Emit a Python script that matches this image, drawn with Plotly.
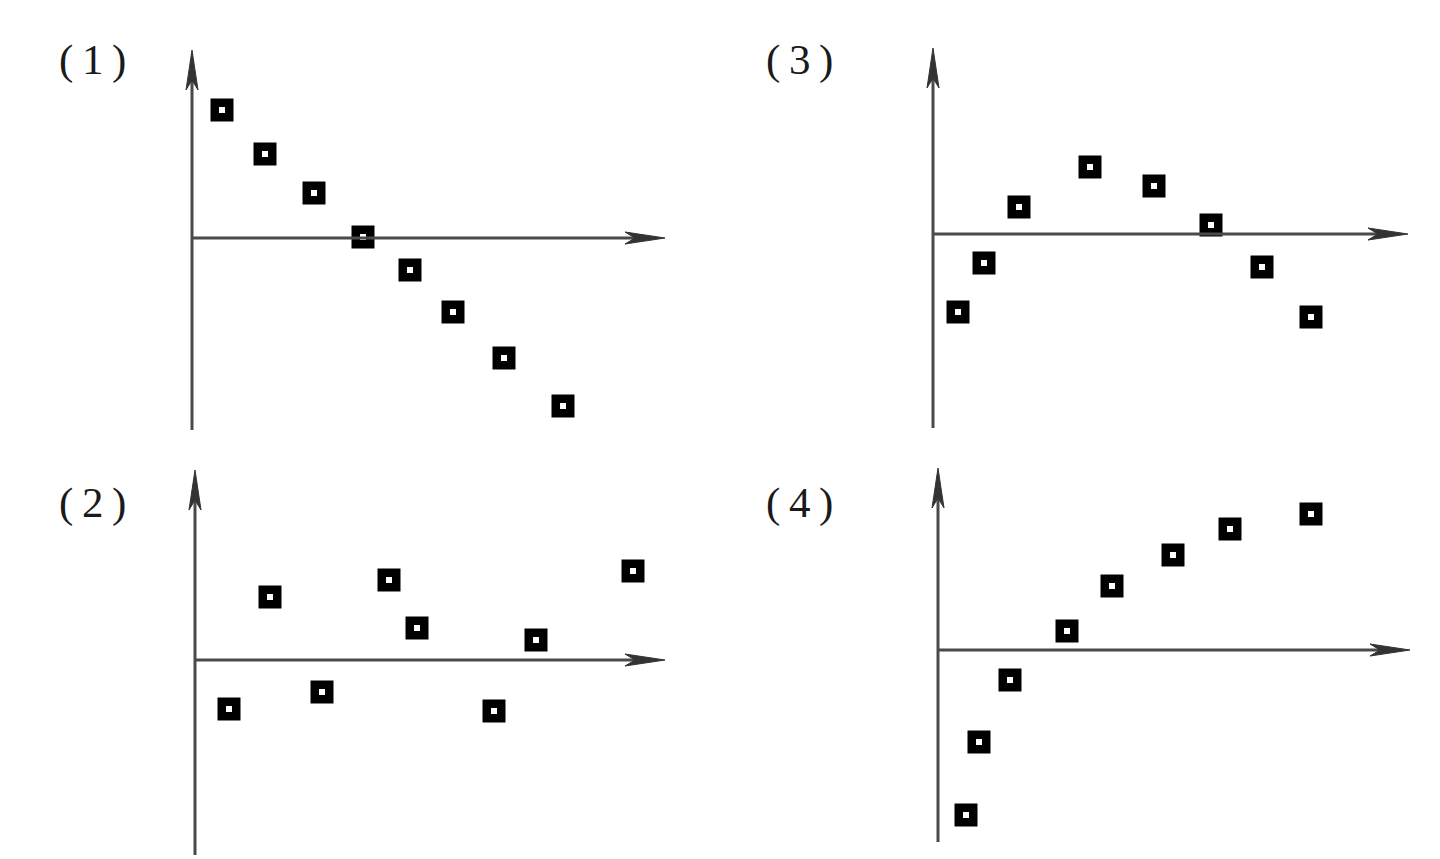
import plotly.graph_objects as go

# Panel data (relative units, origin at axis crossing)
p1_x = [3.0, 7.3, 12.2, 17.1, 21.8, 26.1, 31.2, 37.1]
p1_y = [12.8, 8.4, 4.5, 0.1, -3.2, -7.4, -12.0, -16.8]
p2_x = [3.4, 7.5, 12.7, 19.4, 22.2, 29.9, 34.1, 43.8]
p2_y = [-4.9, 6.3, -3.2, 8.0, 3.2, -5.1, 2.0, 8.9]
p3_x = [2.5, 5.1, 8.6, 15.7, 22.1, 27.8, 32.9, 37.8]
p3_y = [-7.8, -2.9, 2.7, 6.7, 4.8, 0.9, -3.3, -8.3]
p4_x = [2.8, 4.1, 7.2, 12.9, 17.4, 23.5, 29.2, 37.3]
p4_y = [-16.5, -9.2, -3.0, 1.9, 6.4, 9.5, 12.1, 13.6]
labels = ["(\u20091\u2009)", "(\u20092\u2009)", "(\u20093\u2009)", "(\u20094\u2009)"]

W, H = 1440, 859
OFF = 8   # page body margin
PADPX = 20  # padding in px around each panel so axis lines are not clipped
UNIT = 10.0  # px per data unit
# pixel layout per panel: origin x, origin y, y-bottom, y-top, x-right
panels = [
    (p1_x, p1_y, 192, 238, 430, 50, 665),
    (p2_x, p2_y, 195, 660, 855, 470, 665),
    (p3_x, p3_y, 933, 234, 428, 48, 1408),
    (p4_x, p4_y, 938, 650, 842, 468, 1410),
]
label_pos = [(92, 60), (92, 503), (799, 60), (799, 503)]

fig = go.Figure()
shapes = []
AX_COLOR = "#333333"
LINE_COLOR = "#4a4a4a"
for i, (xs, ys, ox, oy, yb, yt, xr) in enumerate(panels):
    k = "" if i == 0 else str(i + 1)
    xa, ya = "x" + k, "y" + k
    xmax = (xr - ox) / UNIT
    ymin, ymax = -(yb - oy) / UNIT, (oy - yt) / UNIT
    fig.add_trace(go.Scatter(x=xs, y=ys, mode="markers", xaxis=xa, yaxis=ya,
                             marker=dict(symbol="square", size=23, color="black",
                                         line=dict(width=0)), showlegend=False, hoverinfo="skip"))
    fig.add_trace(go.Scatter(x=xs, y=ys, mode="markers", xaxis=xa, yaxis=ya,
                             marker=dict(symbol="square", size=6, color="white",
                                         line=dict(width=0)), showlegend=False, hoverinfo="skip"))
    # plot-area pixel extents (figure coords)
    left = ox - OFF
    right = xr - OFF
    bottom_fig = H - (yb - OFF)   # distance from bottom of figure
    top_fig = H - (yt - OFF)
    pl = min(PADPX, left)
    pr = min(PADPX, W - right)
    pb = min(PADPX, bottom_fig)
    pt = min(PADPX, H - top_fig)
    fig.layout["xaxis" + k] = dict(domain=[(left - pl) / W, (right + pr) / W],
                                   range=[-pl / UNIT, xmax + pr / UNIT],
                                   visible=False, anchor=ya, fixedrange=True)
    fig.layout["yaxis" + k] = dict(domain=[(bottom_fig - pb) / H, (top_fig + pt) / H],
                                   range=[ymin - pb / UNIT, ymax + pt / UNIT],
                                   visible=False, anchor=xa, fixedrange=True)
    # axis lines
    shapes.append(dict(type="line", xref=xa, yref=ya, x0=0, y0=ymin, x1=0, y1=ymax - 2.5,
                       line=dict(color=LINE_COLOR, width=3)))
    shapes.append(dict(type="line", xref=xa, yref=ya, x0=0, y0=0, x1=xmax - 2.5, y1=0,
                       line=dict(color=LINE_COLOR, width=3)))
    # arrowheads (stealth style)
    L, N, Hh = 4.0, 3.0, 0.6
    shapes.append(dict(type="path", xref=xa, yref=ya,
                       path=f"M {xmax} 0 L {xmax - L} {Hh} L {xmax - N} 0 L {xmax - L} {-Hh} Z",
                       fillcolor=AX_COLOR, line=dict(color=AX_COLOR, width=1)))
    shapes.append(dict(type="path", xref=xa, yref=ya,
                       path=f"M 0 {ymax} L {Hh} {ymax - L} L 0 {ymax - N} L {-Hh} {ymax - L} Z",
                       fillcolor=AX_COLOR, line=dict(color=AX_COLOR, width=1)))

annotations = []
for lab, (lx, ly) in zip(labels, label_pos):
    annotations.append(dict(x=(lx - OFF) / W, y=(H - ly + OFF) / H, xref="paper", yref="paper",
                            text=lab, showarrow=False,
                            font=dict(family="Liberation Serif", size=43, color="#1a1a1a"),
                            xanchor="center", yanchor="middle"))

fig.update_layout(width=W, height=H, margin=dict(l=0, r=0, t=0, b=0),
                  plot_bgcolor="white", paper_bgcolor="white",
                  annotations=annotations, shapes=shapes)

fig.write_html("out.html")
